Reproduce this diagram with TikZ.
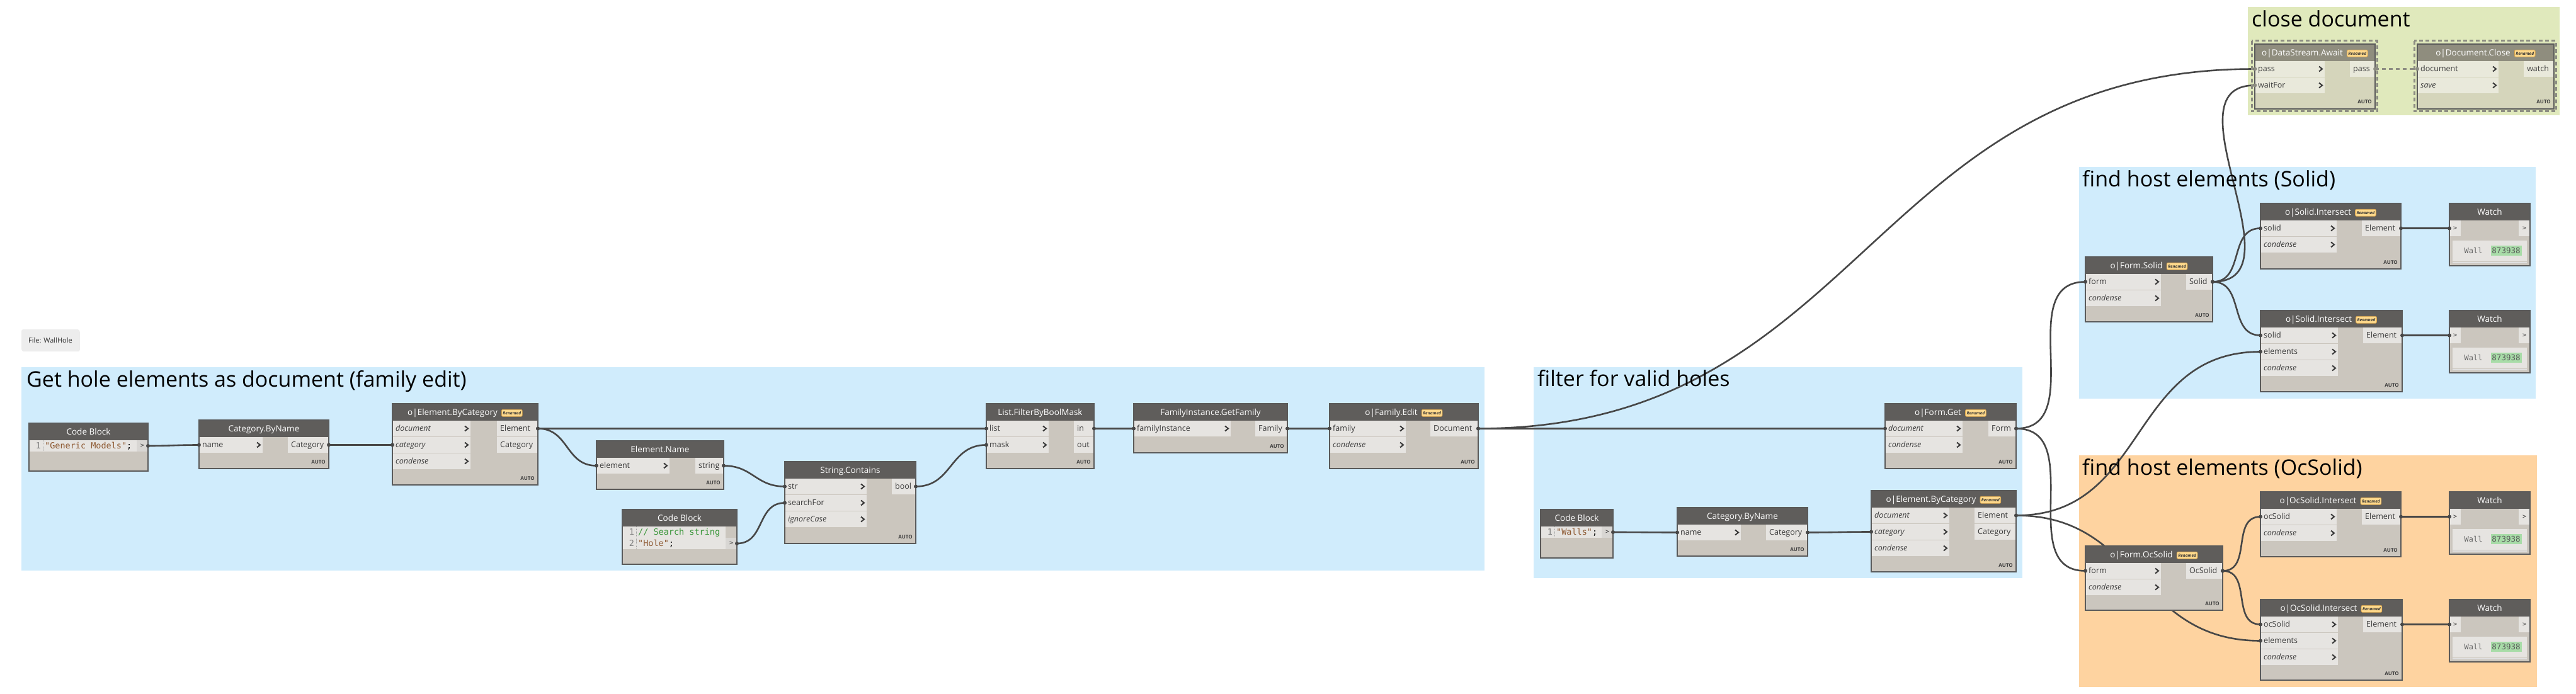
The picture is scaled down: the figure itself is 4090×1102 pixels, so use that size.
\documentclass[tikz,border=0pt]{standalone}
\usepackage{fontspec}
\setmainfont{Open Sans}
\newfontfamily\codefont{DejaVu Sans Mono}
\usetikzlibrary{positioning,shadows,calc}

% canvas colours
\definecolor{grpblue}{HTML}{D0ECFC}
\definecolor{grpgreen}{HTML}{E0E9BC}
\definecolor{grporange}{HTML}{FED3A0}
\definecolor{hdrc}{HTML}{5F5D5B}
\definecolor{bodyc}{HTML}{CBC6BE}
\definecolor{portc}{HTML}{E6E4E1}
\definecolor{edgec}{HTML}{5A5A5A}
\definecolor{labelc}{HTML}{3C3C3C}
\definecolor{wirec}{HTML}{474747}
\definecolor{badgec}{HTML}{FFD98C}
\definecolor{badgeedge}{HTML}{D9A44C}
\definecolor{strc}{HTML}{8E5A33}
\definecolor{commc}{HTML}{3A963A}
\definecolor{idc}{HTML}{A8DCA8}
\definecolor{frzhdr}{HTML}{8F8D7E}
\definecolor{frzbody}{HTML}{D5D5BB}
\definecolor{frzport}{HTML}{E9E9DB}
\definecolor{frzline}{HTML}{8C8C82}

\pgfdeclarelayer{groups}
\pgfdeclarelayer{wires}
\pgfsetlayers{groups,wires,main}

\tikzset{
  nbody/.style={fill=bodyc, anchor=north west, inner sep=0pt, outer sep=0pt},
  nedge/.style={draw=edgec, line width=1.3pt},
  ntitle/.style={text=white, font=\fontsize{13.5}{16}\selectfont, inner sep=0pt, anchor=base},
  plabel/.style={text=labelc, font=\fontsize{12.5}{15}\selectfont, inner sep=0pt, anchor=base west},
  autotxt/.style={text=labelc, font=\bfseries\fontsize{8}{9}\selectfont, inner sep=0pt, anchor=base east},
  badge/.style={fill=badgec, draw=badgeedge, line width=0.8pt, rounded corners=2pt, text=black!80,
    font=\bfseries\itshape\fontsize{6.5}{7}\selectfont, inner xsep=2pt, inner ysep=0pt, minimum height=11pt},
  chev/.style={draw=labelc, line width=2pt},
  code/.style={font=\codefont\fontsize{13.5}{16}\selectfont, inner sep=0pt, anchor=base west},
  lnum/.style={font=\codefont\fontsize{13.5}{16}\selectfont, text=gray, inner sep=0pt, anchor=base},
  wire/.style={draw=wirec, line width=2.6pt,
    to path={let \p1=(\tikztostart), \p2=(\tikztotarget),
      \n1={45*veclen((\x2-\x1)/100,(\y2-\y1)/100)} in
      .. controls +(\n1,0pt) and +(-\n1,0pt) .. (\tikztotarget)}},
  frzwire/.style={draw=frzline, line width=3pt, dash pattern=on 6pt off 5pt},
  frzbox/.style={draw=frzline, line width=3pt, dash pattern=on 6pt off 4pt},
  gtitle/.style={font=\fontsize{34}{40}\selectfont, anchor=base west, inner sep=0pt},
  note/.style={fill=black!7, rounded corners=3pt, drop shadow={opacity=0.15,shadow xshift=0.8pt,shadow yshift=-1.2pt},
    font=\fontsize{11}{13}\selectfont, text=black!80, minimum width=92pt, minimum height=34pt, inner sep=0pt}
}

% node frame: name, x, y, width, height, title
\newcommand{\dyn}[6]{%
  \node[nbody, minimum width=#4pt, minimum height=#5pt] (#1) at (#2,#3) {};
  \fill[hdrc] (#1.north west) rectangle ([yshift=-27pt]#1.north east);
  \node[ntitle] (#1-t) at ([yshift=-18.3pt]#1.north) {#6};}
% same, with the Renamed badge
\newcommand{\dynr}[6]{%
  \node[nbody, minimum width=#4pt, minimum height=#5pt] (#1) at (#2,#3) {};
  \fill[hdrc] (#1.north west) rectangle ([yshift=-27pt]#1.north east);
  \node[ntitle] (#1-t) at ([xshift=-20pt,yshift=-18.3pt]#1.north) {#6};
  \node[badge, right=6pt of #1-t] {Renamed};}
% input port: node, row, label, width
\newcommand{\inp}[4]{%
  \fill[portc] ([yshift={-(1+26*#2)*1pt}]#1.north west) rectangle +(#4pt,-25pt);
  \coordinate (#1-i#2) at ([yshift={-(13.5+26*#2)*1pt}]#1.north west);
  \node[plabel] at ([xshift=5pt,yshift=-4.3pt]#1-i#2) {#3};
  \draw[chev] ([xshift=#4pt-9pt,yshift=4pt]#1-i#2) -- ++(5pt,-4pt) -- ++(-5pt,-4pt);}
% output port: node, row, label, width
\newcommand{\outp}[4]{%
  \fill[portc] ([yshift={-(1+26*#2)*1pt}]#1.north east) rectangle +(-#4pt,-25pt);
  \coordinate (#1-o#2) at ([yshift={-(13.5+26*#2)*1pt}]#1.north east);
  \node[plabel] at ([xshift=-#4pt+5pt,yshift=-4.3pt]#1-o#2) {#3};}
\newcommand{\dynedge}[1]{\draw[nedge] (#1.north west) rectangle (#1.south east);}
\newcommand{\dynend}[1]{%
  \node[autotxt] at ([shift={(-5pt,8pt)}]#1.south east) {AUTO};
  \dynedge{#1}}
% code block: name, x, y, width, height
\newcommand{\cbnode}[5]{%
  \node[nbody, minimum width=#4pt, minimum height=#5pt] (#1) at (#2,#3) {};
  \fill[hdrc] (#1.north west) rectangle ([yshift=-27pt]#1.north east);
  \node[ntitle] at ([yshift=-18.3pt]#1.north) {Code Block};}
\newcommand{\cbline}[3]{%
  \fill[portc] ([yshift={-(9+18*#2)*1pt}]#1.north west) rectangle ([xshift=-18pt,yshift={-(27+18*#2)*1pt}]#1.north east);
  \node[lnum] at ([shift={(15pt,{-(22.5+18*#2)*1pt})}]#1.north west) {#2};
  \draw[gray!70, densely dotted, line width=0.8pt] ([shift={(22pt,{-(9+18*#2)*1pt})}]#1.north west) -- +(0pt,-18pt);
  \node[code] at ([shift={(25pt,{-(22.5+18*#2)*1pt})}]#1.north west) {#3};}
\newcommand{\cbout}[2]{%
  \fill[portc!94!black] ([xshift=-18pt,yshift={-(9+18*#2)*1pt}]#1.north east) rectangle ([yshift={-(27+18*#2)*1pt}]#1.north east);
  \coordinate (#1-o1) at ([yshift={-(18+18*#2)*1pt}]#1.north east);
  \node[code, anchor=center, text=labelc, font=\codefont\fontsize{10}{12}\selectfont] at ([xshift=-9pt]#1-o1) {>};}
% watch node: name, x, y
\newcommand{\watchnode}[3]{%
  \node[nbody, minimum width=128pt, minimum height=99pt] (#1) at (#2,#3) {};
  \fill[hdrc] (#1.north west) rectangle ([yshift=-27pt]#1.north east);
  \node[ntitle] at ([yshift=-18.3pt]#1.north) {Watch};
  \fill[portc] ([yshift=-27pt]#1.north west) rectangle +(18pt,-25pt);
  \fill[portc] ([yshift=-27pt]#1.north east) rectangle +(-18pt,-25pt);
  \coordinate (#1-i1) at ([yshift=-39.5pt]#1.north west);
  \node[code, anchor=center, text=labelc, font=\codefont\fontsize{10}{12}\selectfont] at ([xshift=9pt]#1-i1) {>};
  \node[code, anchor=center, text=labelc, font=\codefont\fontsize{10}{12}\selectfont] at ([xshift=119pt]#1-i1) {>};
  \fill[portc] ([shift={(5pt,-59pt)}]#1.north west) rectangle +(118pt,-33pt);
  \draw[black!12, line width=1.5pt] ([shift={(5pt,-94pt)}]#1.north west) -- +(118pt,0pt);
  \node[code, anchor=center, text=black!60, font=\codefont\fontsize{12}{14}\selectfont] at ([shift={(38pt,-75pt)}]#1.north west) {Wall};
  \node[fill=idc, text=black!65, font=\codefont\fontsize{12.5}{14}\selectfont, minimum width=49pt, minimum height=16pt, inner sep=0pt]
    at ([shift={(90pt,-75pt)}]#1.north west) {873938};
  \dynedge{#1}}
% connector with its port dots
\newcommand{\wire}[2]{%
  \begin{pgfonlayer}{wires}\draw[wire] (#1) to (#2);\end{pgfonlayer}
  \fill[wirec] (#1) circle (3pt) (#2) circle (3pt);}

\begin{document}
\begin{tikzpicture}[x=1pt,y=-1pt]
\useasboundingbox (0,0) rectangle (4090,1102);

% groups
\begin{pgfonlayer}{groups}
\fill[white] (0,0) rectangle (4090,1102);
\fill[grpblue] (34,583) rectangle (2357,906);
\fill[grpblue] (2435,583) rectangle (3211,918);
\fill[grpgreen] (3569,11) rectangle (4064,183);
\fill[grpblue] (3301,265) rectangle (4026,633);
\fill[grporange] (3301,723) rectangle (4028,1091);
\end{pgfonlayer}
\node[gtitle] (g1title) at (42,614) {Get hole elements as document (family edit)};
\node[gtitle] (g2title) at (2441,613) {filter for valid holes};
\node[gtitle] (g3title) at (3575,43) {close document};
\node[gtitle] (g4title) at (3306,296) {find host elements (Solid)};
\node[gtitle] (g5title) at (3306,754) {find host elements (OcSolid)};

\node[note] (fileNote) at (80,540) {File: WallHole};

% Get hole elements as document
\cbnode{cbGeneric}{46}{672}{189}{76}
\cbline{cbGeneric}{1}{\textcolor{strc}{"Generic Models"};}
\cbout{cbGeneric}{1}
\dynedge{cbGeneric}

\dyn{catName1}{316}{667}{206}{77}{Category.ByName}
\inp{catName1}{1}{name}{101}
\outp{catName1}{1}{Category}{65}
\dynend{catName1}

\dynr{elemCat1}{623}{641}{231}{129}{o|Element.ByCategory}
\inp{elemCat1}{1}{\textit{document}}{124}
\inp{elemCat1}{2}{\textit{category}}{124}
\inp{elemCat1}{3}{\textit{condense}}{124}
\outp{elemCat1}{1}{Element}{65}
\outp{elemCat1}{2}{Category}{65}
\dynend{elemCat1}

\dyn{elemName}{947}{700}{202}{77}{Element.Name}
\inp{elemName}{1}{element}{116}
\outp{elemName}{1}{string}{45}
\dynend{elemName}

\cbnode{cbHole}{988}{809}{182}{87}
\cbline{cbHole}{1}{\textcolor{commc}{// Search string}}
\cbline{cbHole}{2}{\textcolor{strc}{"Hole"};}
\cbout{cbHole}{2}
\dynedge{cbHole}

\dyn{strContains}{1246}{733}{208}{130}{String.Contains}
\inp{strContains}{1}{str}{130}
\inp{strContains}{2}{searchFor}{130}
\inp{strContains}{3}{\textit{ignoreCase}}{130}
\outp{strContains}{1}{bool}{38}
\dynend{strContains}

\dyn{boolMask}{1566}{641}{171}{103}{List.FilterByBoolMask}
\inp{boolMask}{1}{list}{99}
\inp{boolMask}{2}{mask}{99}
\outp{boolMask}{1}{in}{32}
\outp{boolMask}{2}{out}{32}
\dynend{boolMask}

\dyn{getFamily}{1800}{641}{244}{78}{FamilyInstance.GetFamily}
\inp{getFamily}{1}{familyInstance}{154}
\outp{getFamily}{1}{Family}{51}
\dynend{getFamily}

\dynr{familyEdit}{2111}{641}{236}{103}{o|Family.Edit}
\inp{familyEdit}{1}{family}{121}
\inp{familyEdit}{2}{\textit{condense}}{121}
\outp{familyEdit}{1}{Document}{76}
\dynend{familyEdit}

% filter for valid holes
\cbnode{cbWalls}{2446}{809}{115}{77}
\cbline{cbWalls}{1}{\textcolor{strc}{"Walls"};}
\cbout{cbWalls}{1}
\dynedge{cbWalls}

\dyn{catName2}{2663}{806}{207}{77}{Category.ByName}
\inp{catName2}{1}{name}{101}
\outp{catName2}{1}{Category}{66}
\dynend{catName2}

\dynr{elemCat2}{2971}{779}{230}{129}{o|Element.ByCategory}
\inp{elemCat2}{1}{\textit{document}}{124}
\inp{elemCat2}{2}{\textit{category}}{124}
\inp{elemCat2}{3}{\textit{condense}}{124}
\outp{elemCat2}{1}{Element}{66}
\outp{elemCat2}{2}{Category}{66}
\dynend{elemCat2}

\dynr{formGet}{2993}{641}{208}{103}{o|Form.Get}
\inp{formGet}{1}{\textit{document}}{123}
\inp{formGet}{2}{\textit{condense}}{123}
\outp{formGet}{1}{Form}{44}
\dynend{formGet}

% close document (frozen nodes)
\begin{scope}
\colorlet{hdrc}{frzhdr}\colorlet{bodyc}{frzbody}\colorlet{portc}{frzport}
\dynr{await}{3580}{70}{191}{103}{o|DataStream.Await}
\inp{await}{1}{pass}{111}
\inp{await}{2}{waitFor}{111}
\outp{await}{1}{pass}{40}
\dynend{await}
\dynr{docClose}{3838}{70}{217}{103}{o|Document.Close}
\inp{docClose}{1}{document}{129}
\inp{docClose}{2}{\textit{save}}{129}
\outp{docClose}{1}{watch}{48}
\dynend{docClose}
\end{scope}
\draw[frzbox] ([shift={(-5pt,5pt)}]await.north west) rectangle ([shift={(3pt,-4pt)}]await.south east);
\draw[frzbox] ([shift={(-5pt,5pt)}]docClose.north west) rectangle ([shift={(3pt,-4pt)}]docClose.south east);

% find host elements (Solid)
\dynr{formSolid}{3311}{408}{202}{103}{o|Form.Solid}
\inp{formSolid}{1}{form}{120}
\inp{formSolid}{2}{\textit{condense}}{120}
\outp{formSolid}{1}{Solid}{42}
\dynend{formSolid}

\dynr{solidX1}{3589}{323}{223}{104}{o|Solid.Intersect}
\inp{solidX1}{1}{solid}{121}
\inp{solidX1}{2}{\textit{condense}}{121}
\outp{solidX1}{1}{Element}{62}
\dynend{solidX1}
\watchnode{watch1}{3889}{323}

\dynr{solidX2}{3589}{493}{225}{129}{o|Solid.Intersect}
\inp{solidX2}{1}{solid}{123}
\inp{solidX2}{2}{elements}{123}
\inp{solidX2}{3}{\textit{condense}}{123}
\outp{solidX2}{1}{Element}{62}
\dynend{solidX2}
\watchnode{watch2}{3889}{493}

% find host elements (OcSolid)
\dynr{formOc}{3311}{867}{218}{102}{o|Form.OcSolid}
\inp{formOc}{1}{form}{120}
\inp{formOc}{2}{\textit{condense}}{120}
\outp{formOc}{1}{OcSolid}{58}
\dynend{formOc}

\dynr{ocX1}{3589}{781}{223}{103}{o|OcSolid.Intersect}
\inp{ocX1}{1}{ocSolid}{121}
\inp{ocX1}{2}{\textit{condense}}{121}
\outp{ocX1}{1}{Element}{62}
\dynend{ocX1}
\watchnode{watch3}{3889}{781}

\dynr{ocX2}{3589}{952}{225}{128}{o|OcSolid.Intersect}
\inp{ocX2}{1}{ocSolid}{123}
\inp{ocX2}{2}{elements}{123}
\inp{ocX2}{3}{\textit{condense}}{123}
\outp{ocX2}{1}{Element}{62}
\dynend{ocX2}
\watchnode{watch4}{3889}{952}

% connectors
\wire{cbGeneric-o1}{catName1-i1}
\wire{catName1-o1}{elemCat1-i2}
\wire{elemCat1-o1}{boolMask-i1}
\wire{elemCat1-o1}{elemName-i1}
\wire{elemName-o1}{strContains-i1}
\wire{cbHole-o1}{strContains-i2}
\wire{strContains-o1}{boolMask-i2}
\wire{boolMask-o1}{getFamily-i1}
\wire{getFamily-o1}{familyEdit-i1}
\wire{familyEdit-o1}{formGet-i1}
\wire{familyEdit-o1}{await-i1}
\wire{cbWalls-o1}{catName2-i1}
\wire{catName2-o1}{elemCat2-i2}
\wire{elemCat2-o1}{solidX2-i2}
\wire{elemCat2-o1}{ocX2-i2}
\wire{formGet-o1}{formSolid-i1}
\wire{formGet-o1}{formOc-i1}
\wire{formSolid-o1}{solidX1-i1}
\wire{formSolid-o1}{solidX2-i1}
\wire{formSolid-o1}{await-i2}
\wire{formOc-o1}{ocX1-i1}
\wire{formOc-o1}{ocX2-i1}
\wire{solidX1-o1}{watch1-i1}
\wire{solidX2-o1}{watch2-i1}
\wire{ocX1-o1}{watch3-i1}
\wire{ocX2-o1}{watch4-i1}

% frozen link
\draw[frzwire] (await-o1) -- (docClose-i1);
\fill[frzline] (await-i1) circle (3pt) (await-i2) circle (3pt)
  (await-o1) circle (3pt) (docClose-i1) circle (3pt);

\end{tikzpicture}
\end{document}
